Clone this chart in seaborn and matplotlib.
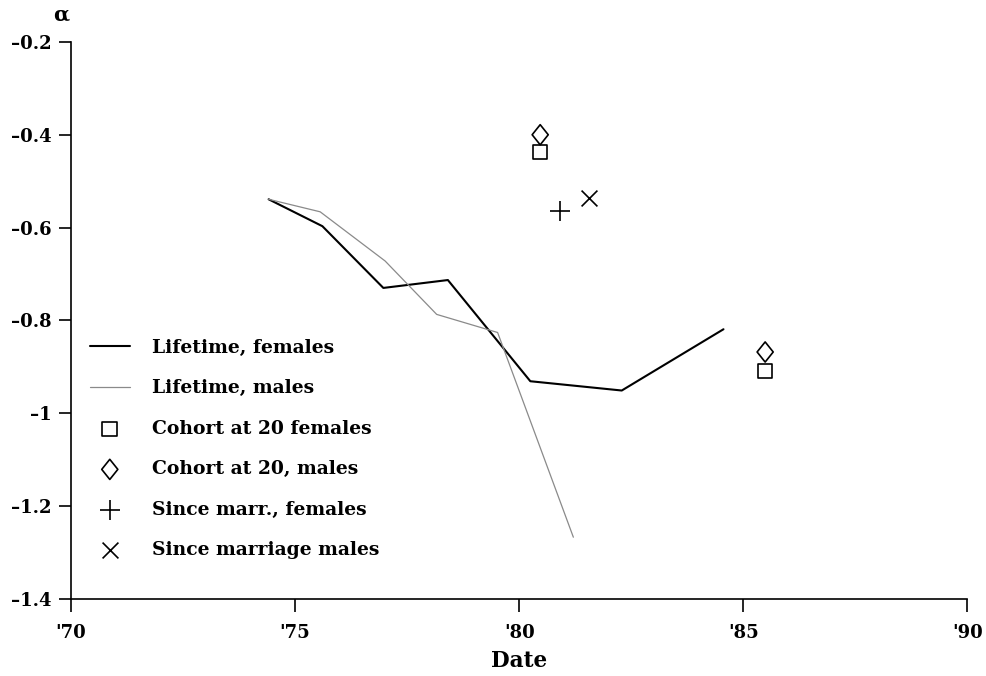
#!/usr/bin/env python3
"""
Alpha estimates by date: lifetime lines and cohort / since-marriage points
"""

import pandas as pd
import matplotlib
matplotlib.use('Agg')
import matplotlib.pyplot as plt
from matplotlib.path import Path
import seaborn as sns

# Lifetime series (date in years since 1900, alpha)
female_year = [74.41, 75.61, 76.97, 78.41, 80.25, 82.29, 84.56]
female_alpha = [-0.539, -0.597, -0.730, -0.713, -0.931, -0.951, -0.819]
male_year = [74.41, 75.56, 77.01, 78.16, 79.52, 81.21]
male_alpha = [-0.539, -0.566, -0.672, -0.787, -0.826, -1.267]

# Point estimates
cohort_f_year = [80.47, 85.49]
cohort_f_alpha = [-0.437, -0.909]
cohort_m_year = [80.47, 85.49]
cohort_m_alpha = [-0.400, -0.868]
marr_f_year = [80.92]
marr_f_alpha = [-0.565]
marr_m_year = [81.55]
marr_m_alpha = [-0.537]

x_ticks = [70, 75, 80, 85, 90]
x_tick_labels = ["'70", "'75", "'80", "'85", "'90"]
y_ticks = [-0.2, -0.4, -0.6, -0.8, -1.0, -1.2, -1.4]
y_tick_labels = ['-0.2', '-0.4', '-0.6', '-0.8', '-1', '-1.2', '-1.4']


def main():
    sns.set_theme(style='white')
    plt.rcParams['font.family'] = ['DejaVu Serif']
    plt.rcParams['font.weight'] = 'bold'
    plt.rcParams['text.color'] = 'black'

    fig = plt.figure(figsize=(9.86, 6.76), dpi=100)
    ax = fig.add_axes([0.072, 0.114, 0.909, 0.824])

    df_f = pd.DataFrame({'year': female_year, 'alpha': female_alpha})
    df_m = pd.DataFrame({'year': male_year, 'alpha': male_alpha})

    # open diamond, a bit wider than matplotlib's thin diamond
    diamond = Path([(0, 1), (0.8, 0), (0, -1), (-0.8, 0), (0, 1)],
                   [Path.MOVETO, Path.LINETO, Path.LINETO, Path.LINETO, Path.CLOSEPOLY])

    sns.lineplot(data=df_f, x='year', y='alpha', ax=ax, color='black',
                 linewidth=1.5, sort=False, label='Lifetime, females')
    sns.lineplot(data=df_m, x='year', y='alpha', ax=ax, color='#8a8a8a',
                 linewidth=0.9, sort=False, label='Lifetime, males')

    sns.scatterplot(x=cohort_f_year, y=cohort_f_alpha, ax=ax, marker='s', s=110,
                    facecolors='none', edgecolor='black', linewidth=1.2,
                    label='Cohort at 20 females')
    sns.scatterplot(x=cohort_m_year, y=cohort_m_alpha, ax=ax, marker=diamond, s=210,
                    facecolors='none', edgecolor='black', linewidth=1.2,
                    label='Cohort at 20, males')
    sns.scatterplot(x=marr_f_year, y=marr_f_alpha, ax=ax, marker='+', s=220,
                    color='black', linewidth=1.2, label='Since marr., females')
    sns.scatterplot(x=marr_m_year, y=marr_m_alpha, ax=ax, marker='x', s=130,
                    color='black', linewidth=1.2, label='Since marriage males')

    ax.set_xlim(70, 90)
    ax.set_ylim(-1.4, -0.2)
    ax.set_xticks(x_ticks)
    ax.set_xticklabels(x_tick_labels)
    ax.set_yticks(y_ticks)
    ax.set_yticklabels([t.replace('-', '\u2013') for t in y_tick_labels])
    ax.tick_params(axis='both', direction='out', length=9, width=1.2,
                   labelsize=13, color='black', labelcolor='black', pad=5,
                   bottom=True, left=True)
    ax.tick_params(axis='x', pad=9)

    for side in ['top', 'right']:
        ax.spines[side].set_visible(False)
    for side in ['left', 'bottom']:
        ax.spines[side].set_color('black')
        ax.spines[side].set_linewidth(1.2)

    ax.set_ylabel('')
    ax.set_xlabel('Date', fontsize=15.5, fontweight='bold', labelpad=6, color='black')
    fig.text(61 / 986, 1 - 15 / 676, '\u03b1', fontsize=15, fontweight='bold',
             ha='center', va='center')

    ax.legend(loc='upper left', bbox_to_anchor=(0.021, 0.467), frameon=False,
              fontsize=13.5, borderaxespad=0, borderpad=0, handlelength=2.13,
              handletextpad=1.17, labelspacing=1.2, labelcolor='black')

    fig.savefig('out.png', dpi=100)
    plt.close(fig)


if __name__ == "__main__":
    main()
